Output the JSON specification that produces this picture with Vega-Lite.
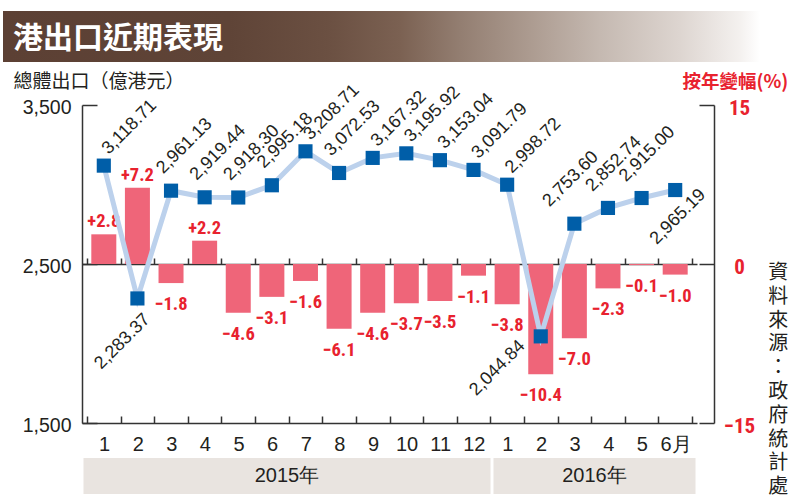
{
  "$schema": "https://vega.github.io/schema/vega-lite/v6.json",
  "padding": {"left": 3, "top": 11, "right": 0, "bottom": 0},
  "background": "white",
  "bounds": "flush",
  "spacing": 35,
  "config": {"view": {"stroke": null}, "font": "Liberation Sans"},
  "vconcat": [
    {
      "width": 757,
      "height": 59,
      "data": {"values": [{"t": "港出口近期表現"}]},
      "layer": [
        {
          "mark": {
            "type": "rect",
            "fill": {
              "gradient": "linear",
              "stops": [
                {"offset": 0, "color": "#5c4034"},
                {"offset": 0.3, "color": "#5f4437"},
                {"offset": 0.43, "color": "#6b5042"},
                {"offset": 0.524, "color": "#7b6152"},
                {"offset": 0.604, "color": "#937e71"},
                {"offset": 0.696, "color": "#ac9b90"},
                {"offset": 0.789, "color": "#c5b9b1"},
                {"offset": 0.894, "color": "#ddd5d0"},
                {"offset": 0.974, "color": "#f4f1ef"},
                {"offset": 1, "color": "#ffffff"}
              ]
            }
          },
          "encoding": {
            "x": {"field": "t", "type": "nominal", "axis": null, "scale": {"paddingInner": 0, "paddingOuter": 0}},
            "y": {"field": "t", "type": "nominal", "axis": null, "scale": {"paddingInner": 0, "paddingOuter": 0.0784, "align": 0}}
          }
        },
        {
          "mark": {"type": "text", "align": "left", "baseline": "middle", "dx": 10, "dy": 2, "color": "white", "fontSize": 30, "fontWeight": "bold", "font": "Noto Sans CJK TC"},
          "encoding": {
            "x": {"field": "t", "type": "nominal", "bandPosition": 0, "axis": null},
            "y": {"field": "t", "type": "nominal", "axis": null},
            "text": {"field": "t"}
          }
        }
      ]
    },
    {
      "width": 711,
      "height": 318,
      "data": {
        "values": [
          {"idx": 1, "period": "2015-01", "exp": 3118.71, "pct": 2.8},
          {"idx": 2, "period": "2015-02", "exp": 2283.37, "pct": 7.2},
          {"idx": 3, "period": "2015-03", "exp": 2961.13, "pct": -1.8},
          {"idx": 4, "period": "2015-04", "exp": 2919.44, "pct": 2.2},
          {"idx": 5, "period": "2015-05", "exp": 2918.30, "pct": -4.6},
          {"idx": 6, "period": "2015-06", "exp": 2995.18, "pct": -3.1},
          {"idx": 7, "period": "2015-07", "exp": 3208.71, "pct": -1.6},
          {"idx": 8, "period": "2015-08", "exp": 3072.53, "pct": -6.1},
          {"idx": 9, "period": "2015-09", "exp": 3167.32, "pct": -4.6},
          {"idx": 10, "period": "2015-10", "exp": 3195.92, "pct": -3.7},
          {"idx": 11, "period": "2015-11", "exp": 3153.04, "pct": -3.5},
          {"idx": 12, "period": "2015-12", "exp": 3091.79, "pct": -1.1},
          {"idx": 13, "period": "2016-01", "exp": 2998.72, "pct": -3.8},
          {"idx": 14, "period": "2016-02", "exp": 2044.84, "pct": -10.4},
          {"idx": 15, "period": "2016-03", "exp": 2753.60, "pct": -7.0},
          {"idx": 16, "period": "2016-04", "exp": 2852.74, "pct": -2.3},
          {"idx": 17, "period": "2016-05", "exp": 2915.00, "pct": -0.1},
          {"idx": 18, "period": "2016-06", "exp": 2965.19, "pct": -1.0}
        ]
      },
      "layer": [
        {
          "encoding": {
            "x": {
              "field": "idx", "type": "quantitative",
              "scale": {"domain": [0.5, 18.5], "range": [79, 694], "nice": false, "zero": false},
              "axis": {
                "orient": "bottom", "offset": -159,
                "values": [0.5, 1.5, 2.5, 3.5, 4.5, 5.5, 6.5, 7.5, 8.5, 9.5, 10.5, 11.5, 12.5, 13.5, 14.5, 15.5, 16.5, 17.5, 18.5],
                "labels": false, "ticks": true, "tickSize": -6, "tickColor": "#333333", "tickWidth": 1.5,
                "domainColor": "#333333", "domainWidth": 1.5, "grid": false, "title": null
              }
            },
            "y": {
              "field": "pct", "type": "quantitative",
              "scale": {"domain": [-15, 15], "nice": false},
              "axis": {
                "orient": "right", "values": [-15, 0, 15],
                "tickSize": -15, "tickColor": "#333333", "tickWidth": 1.5,
                "domainColor": "#333333", "domainWidth": 1.5, "grid": false,
                "labelFontSize": 21, "labelFont": "Roboto Condensed, Liberation Sans Narrow, Liberation Sans",
                "labelFontWeight": "bold", "labelColor": "#e8222e", "labelAlign": "center",
                "labelPadding": 40, "labelBaseline": "middle", "labelOffset": 3,
                "labelFlush": false, "labelOverlap": false,
                "title": "按年變幅(%)", "titleAngle": 0, "titleAlign": "left", "titleBaseline": "alphabetic",
                "titleX": -32, "titleY": -18, "titleFont": "Noto Sans CJK TC", "titleFontSize": 18.5,
                "titleFontWeight": "bold", "titleColor": "#e8222e"
              }
            }
          },
          "layer": [
            {"mark": {"type": "bar", "color": "#ef6579", "width": 25}},
            {
              "transform": [{"filter": "datum.pct > 0"}],
              "mark": {"type": "text", "baseline": "alphabetic", "dy": -7, "fontSize": 18.5, "fontWeight": "bold", "font": "Roboto Condensed, Liberation Sans Narrow, Liberation Sans", "color": "#e8222e"},
              "encoding": {"text": {"field": "pct", "type": "quantitative", "format": "+.1f"}}
            },
            {
              "transform": [{"filter": "datum.pct < 0"}],
              "mark": {"type": "text", "baseline": "top", "dy": 12, "fontSize": 18.5, "fontWeight": "bold", "font": "Roboto Condensed, Liberation Sans Narrow, Liberation Sans", "color": "#e8222e"},
              "encoding": {"text": {"field": "pct", "type": "quantitative", "format": "+.1f"}}
            }
          ]
        },
        {
          "encoding": {
            "x": {
              "field": "idx", "type": "quantitative",
              "scale": {"domain": [0.5, 18.5], "range": [79, 694], "nice": false, "zero": false},
              "axis": {
                "orient": "bottom",
                "values": [0.5, 1.5, 2.5, 3.5, 4.5, 5.5, 6.5, 7.5, 8.5, 9.5, 10.5, 11.5, 12.5, 13.5, 14.5, 15.5, 16.5, 17.5, 18.5],
                "labelExpr": "datum.value < 12 ? '' + (datum.value + 0.5) : datum.value < 17 ? '' + (datum.value - 11.5) : datum.value < 18 ? '6月' : ''",
                "labelOffset": 17.08, "labelPadding": 18,
                "tickSize": -7, "tickColor": "#333333", "tickWidth": 1.5,
                "domainColor": "#333333", "domainWidth": 1.5,
                "labelFontSize": 20, "labelFont": "Liberation Sans", "labelColor": "#231f20",
                "labelFlush": false, "labelOverlap": false, "labelBound": false,
                "grid": false, "title": null
              }
            },
            "y": {
              "field": "exp", "type": "quantitative",
              "scale": {"domain": [1500, 3500], "nice": false, "zero": false},
              "axis": {
                "orient": "left", "offset": -79, "values": [1500, 2500, 3500], "format": ",.0f",
                "tickSize": -15, "tickColor": "#333333", "tickWidth": 1.5,
                "domainColor": "#333333", "domainWidth": 1.5, "grid": false,
                "labelFontSize": 19.5, "labelFont": "Liberation Sans", "labelColor": "#231f20",
                "labelPadding": 26, "labelBaseline": "middle", "labelOffset": 2,
                "labelFlush": false, "labelOverlap": false,
                "title": "總體出口（億港元）", "titleAngle": 0, "titleAlign": "left", "titleBaseline": "alphabetic",
                "titleX": -69, "titleY": -18, "titleFont": "Noto Sans CJK TC", "titleFontSize": 19,
                "titleFontWeight": "normal", "titleColor": "#231f20"
              }
            }
          },
          "layer": [
            {"mark": {"type": "line", "color": "#bcd1ec", "strokeWidth": 5}},
            {"mark": {"type": "point", "shape": "square", "filled": true, "size": 200, "color": "#005ea8", "opacity": 1}},
            {
              "transform": [{"filter": {"field": "idx", "oneOf": [1, 7, 9, 10, 11, 12, 13]}}],
              "mark": {"type": "text", "angle": -45, "align": "left", "baseline": "alphabetic", "dx": 11, "dy": -4, "fontSize": 18, "font": "Liberation Sans", "color": "#231f20"},
              "encoding": {"text": {"field": "exp", "type": "quantitative", "format": ",.2f"}}
            },
            {
              "transform": [{"filter": {"field": "idx", "oneOf": [3, 4, 5, 6, 8]}}],
              "mark": {"type": "text", "angle": -45, "align": "left", "baseline": "alphabetic", "dx": 6, "dy": -17, "fontSize": 18, "font": "Liberation Sans", "color": "#231f20"},
              "encoding": {"text": {"field": "exp", "type": "quantitative", "format": ",.2f"}}
            },
            {
              "transform": [{"filter": "datum.idx == 15"}],
              "mark": {"type": "text", "angle": -45, "align": "left", "baseline": "alphabetic", "dx": -6, "dy": -29, "fontSize": 18, "font": "Liberation Sans", "color": "#231f20"},
              "encoding": {"text": {"field": "exp", "type": "quantitative", "format": ",.2f"}}
            },
            {
              "transform": [{"filter": {"field": "idx", "oneOf": [16, 17]}}],
              "mark": {"type": "text", "angle": -45, "align": "left", "baseline": "alphabetic", "dx": 0, "dy": -22, "fontSize": 18, "font": "Liberation Sans", "color": "#231f20"},
              "encoding": {"text": {"field": "exp", "type": "quantitative", "format": ",.2f"}}
            },
            {
              "transform": [{"filter": "datum.idx == 2"}],
              "mark": {"type": "text", "angle": -45, "align": "right", "baseline": "alphabetic", "dx": -6, "dy": 25, "fontSize": 18, "font": "Liberation Sans", "color": "#231f20"},
              "encoding": {"text": {"field": "exp", "type": "quantitative", "format": ",.2f"}}
            },
            {
              "transform": [{"filter": "datum.idx == 14"}],
              "mark": {"type": "text", "angle": -45, "align": "right", "baseline": "alphabetic", "dx": -18, "dy": -3, "fontSize": 18, "font": "Liberation Sans", "color": "#231f20"},
              "encoding": {"text": {"field": "exp", "type": "quantitative", "format": ",.2f"}}
            },
            {
              "transform": [{"filter": "datum.idx == 18"}],
              "mark": {"type": "text", "angle": -45, "align": "right", "baseline": "alphabetic", "dx": 18, "dy": 26, "fontSize": 18, "font": "Liberation Sans", "color": "#231f20"},
              "encoding": {"text": {"field": "exp", "type": "quantitative", "format": ",.2f"}}
            },
            {
              "transform": [{"filter": "datum.idx == 18"}],
              "mark": {"type": "text", "align": "left", "baseline": "top", "dx": 93, "dy": 73, "lineBreak": "\n", "lineHeight": 23.8, "fontSize": 20, "font": "Liberation Sans, Noto Sans CJK TC", "color": "#231f20"},
              "encoding": {"text": {"value": "資\n料\n來\n源\n：\n政\n府\n統\n計\n處"}}
            }
          ]
        }
      ],
      "resolve": {"scale": {"y": "independent"}, "axis": {"x": "independent", "y": "independent"}}
    },
    {
      "width": 711,
      "height": 36,
      "data": {
        "values": [
          {"year": "2015年", "start": 0.5, "end": 12.5, "mid": 6.5},
          {"year": "2016年", "start": 12.5, "end": 18.5, "mid": 15.5}
        ]
      },
      "layer": [
        {
          "mark": {"type": "rect", "color": "#e9e4e0", "xOffset": 1.5, "x2Offset": -1.5},
          "encoding": {
            "x": {"field": "start", "type": "quantitative", "scale": {"domain": [0.5, 18.5], "range": [79, 694], "nice": false, "zero": false}, "axis": null},
            "x2": {"field": "end"}
          }
        },
        {
          "mark": {"type": "text", "baseline": "middle", "fontSize": 20, "font": "Liberation Sans", "color": "#231f20"},
          "encoding": {
            "x": {"field": "mid", "type": "quantitative", "axis": null},
            "text": {"field": "year"}
          }
        }
      ]
    }
  ]
}
